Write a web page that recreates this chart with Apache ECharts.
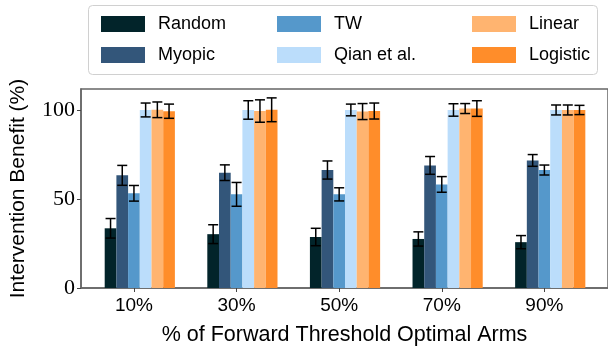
<!DOCTYPE html>
<html>
<head>
<meta charset="utf-8">
<script src="https://cdn.jsdelivr.net/npm/echarts@6/dist/echarts.min.js"></script>
<style>html,body{margin:0;padding:0;background:#fff;}#c{width:608px;height:351px;}</style>
</head>
<body>
<div id="c"></div>
<script>
const categories = ['10%', '30%', '50%', '70%', '90%'];
const seriesNames = ['Random', 'Myopic', 'TW', 'Qian et al.', 'Linear', 'Logistic'];
const random   = [33.6, 30.3, 28.7, 27.6, 25.8];
const myopic   = [63.4, 64.9, 66.4, 69.0, 71.8];
const tw       = [53.3, 52.7, 52.7, 58.3, 66.4];
const qian     = [100.2, 100.2, 100.2, 100.2, 100.2];
const linear   = [100.3, 99.6, 99.3, 101.0, 100.2];
const logistic = [99.5, 100.3, 99.6, 101.0, 100.2];
const randomErr   = [5.5, 5.3, 4.9, 4.0, 3.7];
const myopicErr   = [5.6, 4.4, 5.1, 5.0, 3.3];
const twErr       = [4.4, 6.7, 3.7, 4.4, 2.8];
const qianErr     = [3.9, 5.2, 3.3, 3.5, 2.8];
const linearErr   = [4.4, 6.3, 4.5, 2.8, 2.8];
const logisticErr = [4.0, 6.7, 4.5, 4.4, 2.6];
const yTicks = [0, 50, 100];

const values = [random, myopic, tw, qian, linear, logistic];
const errs = [randomErr, myopicErr, twErr, qianErr, linearErr, logisticErr];
const colors = ['#02242A', '#33567A', '#5598CB', '#BBDDFB', '#FFB470', '#FF8D2A'];
const BW = 11.7;
const sans = 'Liberation Sans';
const serif = 'Liberation Serif';

const chart = echarts.init(document.getElementById('c'), null, {renderer: 'canvas'});

const series = [];
// padding slot so that the group sits like matplotlib's (offsets -2w .. +3w)
series.push({type: 'bar', name: '_pad', data: [], barWidth: BW, barGap: '0%', silent: true});
seriesNames.forEach((n, s) => {
  series.push({
    type: 'bar', name: n, barWidth: BW, barGap: '0%',
    itemStyle: {color: colors[s]},
    data: values[s].map((v, i) => [i, v])
  });
});
const errData = [];
values.forEach((arr, s) => arr.forEach((v, i) => errData.push([i, v, errs[s][i], s])));
series.push({
  type: 'custom', name: 'err', data: errData, encode: {x: 0, y: 1}, z: 10, silent: true,
  renderItem: function (params, api) {
    const i = api.value(0), v = api.value(1), e = api.value(2), s = api.value(3);
    const off = (s - 2) * BW;
    const top = api.coord([i, v + e]);
    const bot = api.coord([i, v - e]);
    const x = top[0] + off;
    const st = {stroke: '#000', lineWidth: 1.5};
    const cap = 5;
    return {type: 'group', children: [
      {type: 'line', shape: {x1: x, y1: top[1], x2: x, y2: bot[1]}, style: st},
      {type: 'line', shape: {x1: x - cap, y1: top[1], x2: x + cap, y2: top[1]}, style: st},
      {type: 'line', shape: {x1: x - cap, y1: bot[1], x2: x + cap, y2: bot[1]}, style: st}
    ]};
  }
});

function legendCol(names, left) {
  return {
    orient: 'vertical', left: left, top: 10, itemWidth: 44, itemHeight: 16, itemGap: 13,
    data: names, icon: 'rect', selectedMode: false, z: 10,
    textStyle: {fontFamily: sans, fontSize: 18, color: '#000', padding: [0, 0, 0, 8]}
  };
}

chart.setOption({
  animation: false,
  grid: {left: 80, top: 89, right: -2, bottom: 62, show: true, borderColor: '#666', borderWidth: 1.5},
  legend: [
    legendCol(['Random', 'Myopic'], 96),
    legendCol(['TW', 'Qian et al.'], 272),
    legendCol(['Linear', 'Logistic'], 467)
  ],
  graphic: [{
    type: 'rect', left: 88, top: 5, z: 1,
    shape: {width: 509, height: 69, r: 4},
    style: {fill: '#fff', stroke: '#d0d0d0', lineWidth: 1}
  }],
  xAxis: {
    type: 'value', min: -0.516, max: 4.62,
    name: '% of Forward Threshold Optimal Arms', nameLocation: 'middle', nameGap: 36,
    nameTextStyle: {fontFamily: sans, fontSize: 21.5, color: '#000'},
    axisLine: {show: true, onZero: false, lineStyle: {color: '#666', width: 1.5}},
    axisTick: {show: true, customValues: [0, 1, 2, 3, 4], length: 4, inside: false, lineStyle: {color: '#444'}},
    axisLabel: {customValues: [0, 1, 2, 3, 4], formatter: v => categories[Math.round(v)],
      fontFamily: sans, fontSize: 19, color: '#000', margin: 8},
    splitLine: {show: false}
  },
  yAxis: {
    type: 'value', min: 0, max: 112, interval: 50,
    name: 'Intervention Benefit (%)', nameLocation: 'middle', nameGap: 52,
    nameTextStyle: {fontFamily: sans, fontSize: 21, color: '#000'},
    axisLine: {show: true, onZero: false, lineStyle: {color: '#666', width: 1.5}},
    axisTick: {show: true, length: 4, lineStyle: {color: '#444'}},
    axisLabel: {fontFamily: serif, fontSize: 22, color: '#000', margin: 6,
      showMaxLabel: false, formatter: v => yTicks.includes(v) ? String(v) : ''},
    splitLine: {show: false}
  },
  series: series
});
</script>
</body>
</html>
